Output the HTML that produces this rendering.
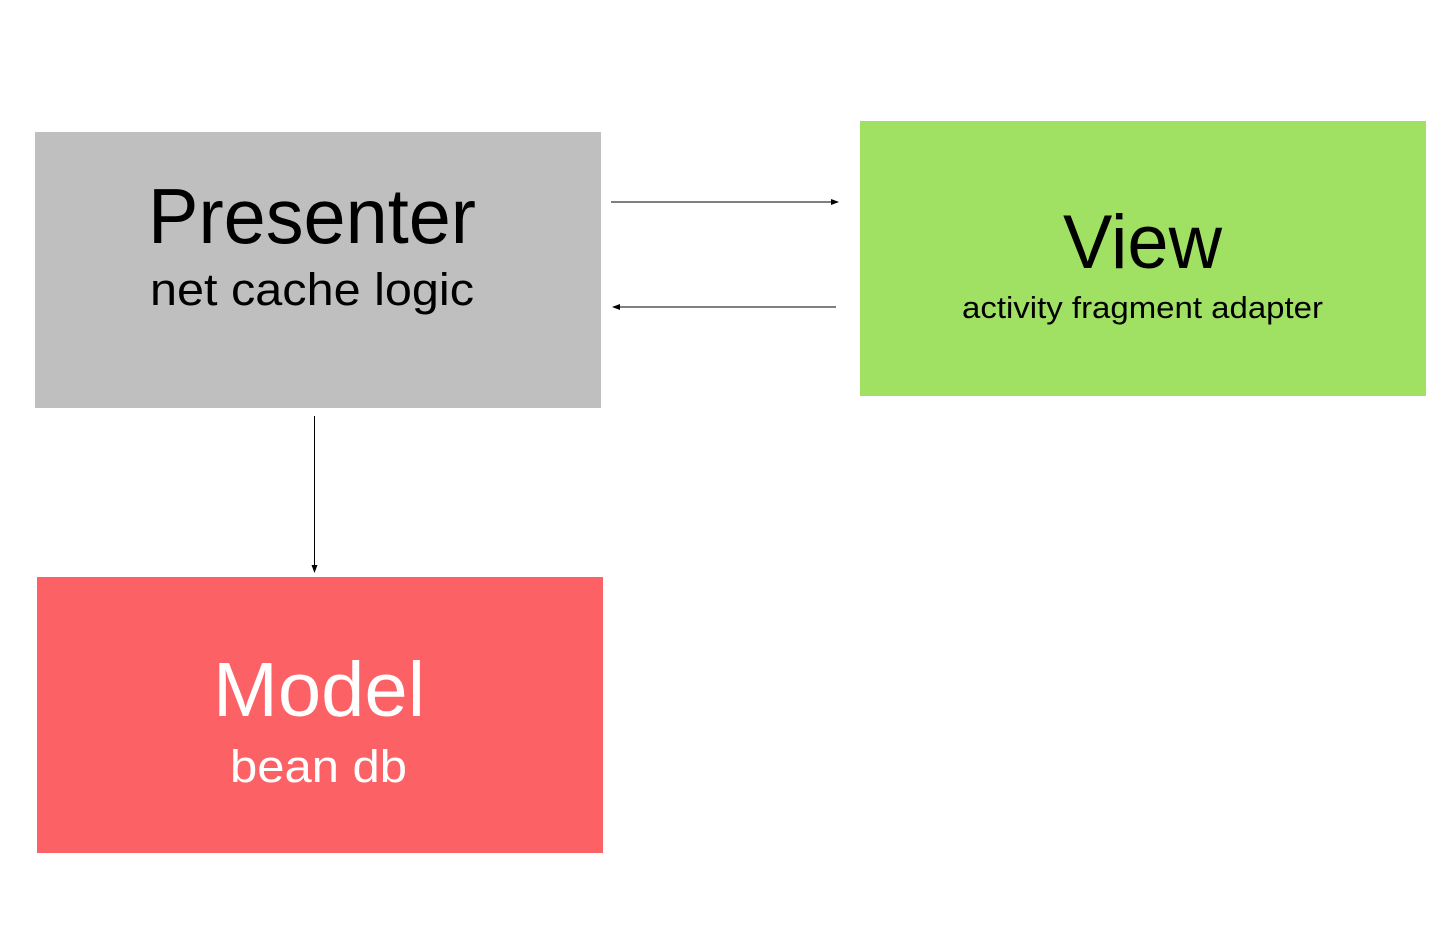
<!DOCTYPE html>
<html><head><meta charset="utf-8"><style>
html,body{margin:0;padding:0;background:#fff;}
svg{display:block;}
text{font-family:"Liberation Sans",sans-serif;}
</style></head><body>
<svg width="1448" height="926" viewBox="0 0 1448 926" xmlns="http://www.w3.org/2000/svg">
<defs>
<marker id="ah" markerWidth="8" markerHeight="6" refX="7" refY="3" orient="auto" markerUnits="userSpaceOnUse">
<path d="M0,0 L8,3 L0,6 z" fill="#000"/></marker>
</defs>
<rect x="35" y="132" width="566" height="276" fill="#bfbfbf"/>
<rect x="860" y="121" width="566" height="275" fill="#a0e063"/>
<rect x="37" y="577" width="566" height="276" fill="#fc6265"/>
<line x1="611" y1="202" x2="838" y2="202" stroke="#000" stroke-width="1" marker-end="url(#ah)"/>
<line x1="836" y1="307" x2="613" y2="307" stroke="#000" stroke-width="1" marker-end="url(#ah)"/>
<line x1="314.5" y1="416" x2="314.5" y2="572" stroke="#000" stroke-width="1" marker-end="url(#ah)"/>
<text x="148" y="243" font-size="78" textLength="328" lengthAdjust="spacingAndGlyphs" fill="#000">Presenter</text>
<text x="150" y="305" font-size="45" textLength="324" lengthAdjust="spacingAndGlyphs" fill="#000">net cache logic</text>
<text x="1063" y="268" font-size="76" textLength="159" lengthAdjust="spacingAndGlyphs" fill="#000">View</text>
<text x="962" y="318" font-size="31" textLength="361" lengthAdjust="spacingAndGlyphs" fill="#000">activity fragment adapter</text>
<text x="213" y="716" font-size="77" textLength="212" lengthAdjust="spacingAndGlyphs" fill="#fff">Model</text>
<text x="230" y="782" font-size="45" textLength="177" lengthAdjust="spacingAndGlyphs" fill="#fff">bean db</text>
</svg>
</body></html>
